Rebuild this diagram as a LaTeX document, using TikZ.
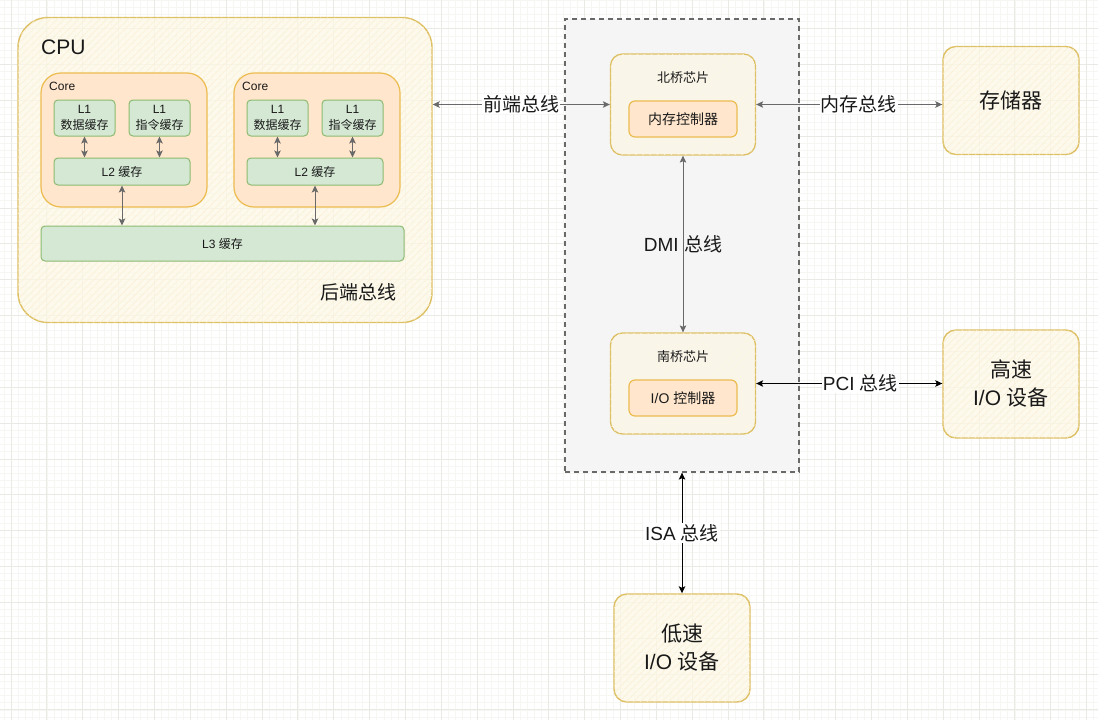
\documentclass[tikz,border=0pt]{standalone}
\usepackage{fontspec}
\setmainfont{Liberation Sans}
\newfontfamily\zh{Noto Sans CJK SC}
\usetikzlibrary{arrows.meta,patterns.meta}

\definecolor{yfill}{RGB}{253,248,230}
\definecolor{yfilltwo}{RGB}{249,245,233}
\definecolor{ystroke}{RGB}{222,192,100}
\definecolor{yhatch}{RGB}{246,228,175}
\definecolor{ofill}{RGB}{255,230,204}
\definecolor{ostroke}{RGB}{236,188,80}
\definecolor{gfill}{RGB}{213,232,212}
\definecolor{gstroke}{RGB}{140,186,112}
\definecolor{chipfill}{RGB}{245,245,245}
\definecolor{linkgray}{RGB}{105,105,105}
\definecolor{gridminor}{RGB}{246,246,243}
\definecolor{gridmajor}{RGB}{234,234,229}

\tikzset{
  ybox/.style={draw=ystroke, fill=yfill, fill opacity=0.75, text opacity=1, line width=1.4pt, rounded corners=13pt,
    postaction={pattern={Lines[angle=45,distance=5pt,line width=0.5pt]}, pattern color=yhatch!55}},
  nbox/.style={draw=ystroke, fill=yfilltwo, line width=1.3pt, rounded corners=12pt,
    postaction={pattern={Lines[angle=45,distance=5pt,line width=0.5pt]}, pattern color=yhatch!35}},
  obox/.style={draw=ostroke, fill=ofill, line width=1.2pt, rounded corners=6pt},
  gbox/.style={draw=gstroke, fill=gfill, line width=1pt, rounded corners=4pt, align=center},
  chipbox/.style={draw=linkgray, fill=chipfill, line width=1.3pt, dash pattern=on 5pt off 4pt},
  link/.style={<->, draw=linkgray, line width=1pt},
  blink/.style={<->, draw=black, line width=1pt},
  small/.style={font=\fontsize{12}{15.5}\selectfont},
  buslbl/.style={fill=white, inner sep=1pt, font=\fontsize{19}{22}\selectfont},
  devlbl/.style={font=\fontsize{21}{28}\selectfont, align=center}
}

\begin{document}
\begin{tikzpicture}[x=1pt,y=-1pt,>={Stealth[length=7pt,width=6.5pt,inset=1.5pt]},text=black!90]
\useasboundingbox (0,0) rectangle (1098,720);
\fill[white] (0,0) rectangle (1098,720);

% background grid
\foreach \i in {-1,...,153} \draw[gridminor, line width=0.6pt] ({11+7.17*\i},0) -- ({11+7.17*\i},720);
\foreach \i in {0,...,101} \draw[gridminor, line width=0.6pt] (0,{7.17*\i}) -- (1098,{7.17*\i});
\foreach \i in {0,...,30} \draw[gridmajor, line width=0.8pt] ({11+35.85*\i},0) -- ({11+35.85*\i},720);
\foreach \i in {0,...,20} \draw[gridmajor, line width=0.8pt] (0,{28.7+35.85*\i}) -- (1098,{28.7+35.85*\i});

% CPU
\node[ybox, rounded corners=30pt, minimum width=414pt, minimum height=305pt] (cpu) at (225,170) {};
\node[anchor=west, inner sep=0pt, font=\fontsize{21}{24}\selectfont] (cpulbl) at (41,47) {CPU};
\node[font=\fontsize{19}{22}\selectfont] (backbus) at (358,292) {\zh 后端总线};

\node[obox, rounded corners=20pt, minimum width=166pt, minimum height=134pt] (core1) at (124,140) {};
\node[small, anchor=west, inner sep=0pt] (core1lbl) at (49,86) {Core};
\node[gbox, small, minimum width=61pt, minimum height=36pt] (l1d1) at (84.5,118) {L1\\{\zh 数据缓存}};
\node[gbox, small, minimum width=61pt, minimum height=36pt] (l1i1) at (159.5,118) {L1\\{\zh 指令缓存}};
\node[gbox, small, minimum width=136pt, minimum height=27pt] (l2a) at (122,171.5) {L2 {\zh 缓存}};

\node[obox, rounded corners=20pt, minimum width=166pt, minimum height=134pt] (core2) at (317,140) {};
\node[small, anchor=west, inner sep=0pt] (core2lbl) at (242,86) {Core};
\node[gbox, small, minimum width=61pt, minimum height=36pt] (l1d2) at (277.5,118) {L1\\{\zh 数据缓存}};
\node[gbox, small, minimum width=61pt, minimum height=36pt] (l1i2) at (352.5,118) {L1\\{\zh 指令缓存}};
\node[gbox, small, minimum width=136pt, minimum height=27pt] (l2b) at (315,171.5) {L2 {\zh 缓存}};

\node[gbox, small, minimum width=363pt, minimum height=35pt] (l3) at (222.5,243.5) {L3 {\zh 缓存}};

\draw[link] (l1d1.south) -- (l1d1.south |- l2a.north);
\draw[link] (l1i1.south) -- (l1i1.south |- l2a.north);
\draw[link] (l1d2.south) -- (l1d2.south |- l2b.north);
\draw[link] (l1i2.south) -- (l1i2.south |- l2b.north);
\draw[link] (l2a.south) -- (l2a.south |- l3.north);
\draw[link] (l2b.south) -- (l2b.south |- l3.north);

% chipset
\node[chipbox, minimum width=234pt, minimum height=453pt] (chip) at (682,245.5) {};
\node[nbox, minimum width=145pt, minimum height=101pt] (nb) at (683,104.5) {};
\node[font=\fontsize{13}{16}\selectfont] (nblbl) at (683,78) {\zh 北桥芯片};
\node[obox, minimum width=108pt, minimum height=36pt, font=\fontsize{14}{17}\selectfont] (memctl) at (683,119) {\zh 内存控制器};
\node[nbox, minimum width=145pt, minimum height=101pt] (sb) at (683,383.5) {};
\node[font=\fontsize{13}{16}\selectfont] (sblbl) at (683,357) {\zh 南桥芯片};
\node[obox, minimum width=108pt, minimum height=36pt, font=\fontsize{14}{17}\selectfont] (ioctl) at (683,398) {I/O {\zh 控制器}};

% devices
\node[ybox, devlbl, minimum width=136pt, minimum height=108pt] (mem) at (1011,100.5) {\zh 存储器};
\node[ybox, devlbl, minimum width=136pt, minimum height=108pt] (fastio) at (1011,384) {{\zh 高速}\\I/O {\zh 设备}};
\node[ybox, devlbl, minimum width=136pt, minimum height=108pt] (slowio) at (682,648) {{\zh 低速}\\I/O {\zh 设备}};

% buses
\draw[link] (cpu.east |- nb.west) -- node[buslbl] {\zh 前端总线} (nb.west);
\draw[link] (nb.east) -- node[buslbl, pos=0.55] {\zh 内存总线} (nb.east -| mem.west);
\draw[link] (nb.south) -- node[font=\fontsize{19}{22}\selectfont] {DMI {\zh 总线}} (sb.north);
\draw[blink] (sb.east) -- node[buslbl, pos=0.56] {PCI {\zh 总线}} (sb.east -| fastio.west);
\draw[blink] (chip.south) -- node[buslbl] {ISA {\zh 总线}} (slowio.north);
\end{tikzpicture}
\end{document}
